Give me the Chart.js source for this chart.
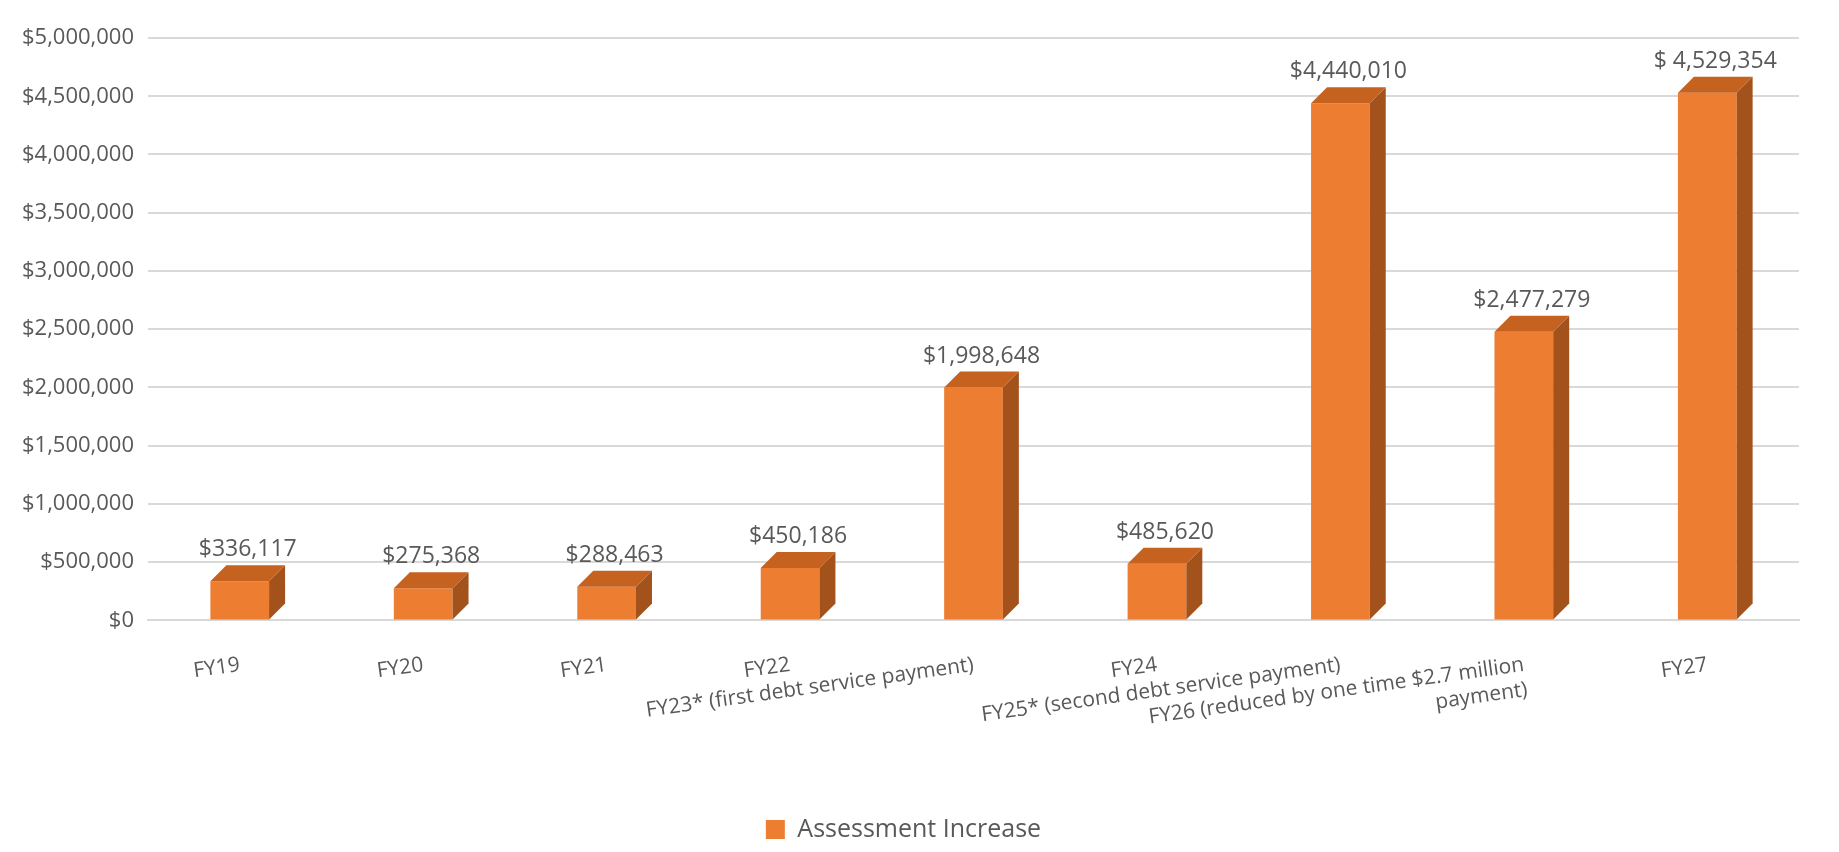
<!DOCTYPE html>
<html>
<head>
<meta charset="utf-8">
<title>Assessment Increase</title>
<script src="https://cdn.jsdelivr.net/npm/chart.js@4.4.0/dist/chart.umd.min.js"></script>
<style>
  html, body { margin: 0; padding: 0; background: #fff; }
  #wrap { width: 1839px; height: 852px; }
</style>
</head>
<body>
<div id="wrap"><canvas id="chart"></canvas></div>
<script>
// data
let fyLabels = [
    'FY19',
    'FY20',
    'FY21',
    'FY22',
    'FY23* (first debt service payment)',
    'FY24',
    'FY25* (second debt service payment)',
    ['FY26 (reduced by one time $2.7 million', 'payment)'],
    'FY27'
];
let increaseValues = [336117, 275368, 288463, 450186, 1998648, 485620, 4440010, 2477279, 4529354];
let valueText = ['$336,117', '$275,368', '$288,463', '$450,186', '$1,998,648', '$485,620', '$4,440,010', '$2,477,279', '$ 4,529,354'];
let yTicks = [0, 500000, 1000000, 1500000, 2000000, 2500000, 3000000, 3500000, 4000000, 4500000, 5000000];

let textGray = '#595959';
let barFront = '#ED7D31';
let barSide = '#A3521C';
let barTop = '#C5621F';

function money(v) {
    return '$' + Number(v).toLocaleString('en-US');
}

// draws the depth faces and the value labels on top of each bar
let boxPlugin = {
    id: 'boxPlugin',
    afterDatasetsDraw(chart) {
        let ctx = chart.ctx;
        let meta = chart.getDatasetMeta(0);
        meta.data.forEach((bar, i) => {
            let w = bar.width;
            let d = 16; // depth
            let left = bar.x - w / 2;
            let right = bar.x + w / 2;
            let top = bar.y;
            let base = bar.base;
            ctx.save();
            // side
            ctx.fillStyle = barSide;
            ctx.beginPath();
            ctx.moveTo(right, top);
            ctx.lineTo(right + d, top - d);
            ctx.lineTo(right + d, base - d);
            ctx.lineTo(right, base);
            ctx.closePath();
            ctx.fill();
            // top
            ctx.fillStyle = barTop;
            ctx.beginPath();
            ctx.moveTo(left, top);
            ctx.lineTo(left + d, top - d);
            ctx.lineTo(right + d, top - d);
            ctx.lineTo(right, top);
            ctx.closePath();
            ctx.fill();
            // value label
            ctx.fillStyle = textGray;
            ctx.font = '23px "Open Sans", sans-serif';
            ctx.textAlign = 'center';
            ctx.textBaseline = 'bottom';
            ctx.fillText(valueText[i], bar.x + 8, top - d - 4);
            ctx.restore();
        });
    }
};

let ctx = document.getElementById('chart').getContext('2d');
let myChart = new Chart(ctx, {
    type: 'bar',
    data: {
        labels: fyLabels,
        datasets: [{
            label: 'Assessment Increase',
            data: increaseValues,
            backgroundColor: barFront,
            borderWidth: 0,
            barPercentage: 0.32,
            categoryPercentage: 1.0
        }]
    },
    options: {
        responsive: true,
        maintainAspectRatio: false,
        animation: false,
        layout: {
            padding: { top: 38, right: 40, left: 8, bottom: 0 }
        },
        scales: {
            y: {
                min: 0,
                max: 5000000,
                afterBuildTicks: (axis) => {
                    axis.ticks = yTicks.map(v => ({ value: v }));
                },
                border: { display: false },
                grid: { color: '#d9d9d9', lineWidth: 2, drawTicks: false },
                ticks: {
                    color: textGray,
                    padding: 14,
                    font: { family: '"Open Sans", sans-serif', size: 22 },
                    callback: (v) => money(v)
                }
            },
            x: {
                border: { display: true, color: '#d9d9d9', width: 2 },
                grid: { display: false },
                ticks: {
                    color: textGray,
                    minRotation: 8,
                    maxRotation: 8,
                    padding: 24,
                    autoSkip: false,
                    font: { family: '"Open Sans", sans-serif', size: 21 }
                }
            }
        },
        plugins: {
            tooltip: { enabled: false },
            legend: {
                position: 'bottom',
                labels: {
                    color: textGray,
                    boxWidth: 19,
                    boxHeight: 19,
                    padding: 38,
                    font: { family: '"Open Sans", sans-serif', size: 25 }
                }
            }
        }
    },
    plugins: [boxPlugin]
});
</script>
</body>
</html>
